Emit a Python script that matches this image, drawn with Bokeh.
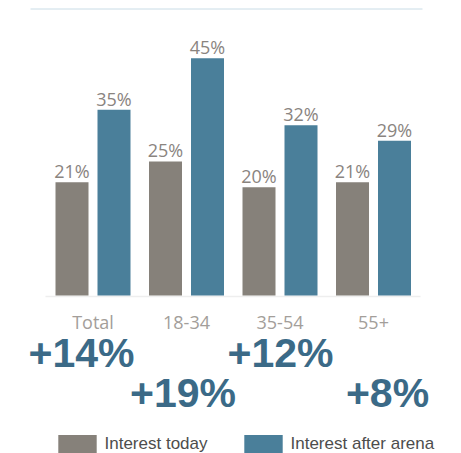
from bokeh.plotting import figure
from bokeh.models import Range1d, Legend, LegendItem, ColumnDataSource
from bokeh.core.properties import value
from bokeh.embed import file_html
from bokeh.resources import INLINE

# ---- data ----
categories = ["Total", "18-34", "35-54", "55+"]
interest_today = [21, 25, 20, 21]
interest_after = [35, 45, 32, 29]
change_labels = ["+14%", "+19%", "+12%", "+8%"]

# ---- layout constants (screen px) ----
W, H = 461, 453
PX_PER_UNIT_X = 93.5
FIRST_CENTER_X = 92.5
PX_PER_PCT = 5.167
ZERO_Y = 290.2
TOP = 0.0
LEFT = 0.0
BASE_FIX = 0.35  # em shift compensation for alphabetic baseline in svg

def sx(px):  # screen x -> data x
    return (px - FIRST_CENTER_X) / PX_PER_UNIT_X

def sy(py):  # screen y -> data y
    return (ZERO_Y - py) / PX_PER_PCT

x_start, x_end = sx(LEFT), sx(LEFT + W)
y_end, y_start = sy(TOP), sy(TOP + H)

GRAY = "#86817a"
BLUE = "#4a7f9a"
BIG = "#3b6a87"

p = figure(width=W, height=H, output_backend="svg", toolbar_location=None,
           x_range=Range1d(x_start, x_end), y_range=Range1d(y_start, y_end),
           min_border=0, min_border_left=0, min_border_right=0,
           min_border_top=0, min_border_bottom=0)
p.axis.visible = False
p.grid.visible = False
p.outline_line_color = None
p.background_fill_color = "white"
p.border_fill_color = "white"

idx = list(range(len(categories)))
off = 21 / PX_PER_UNIT_X
bw = 33 / PX_PER_UNIT_X
bottom = sy(295)

src = ColumnDataSource(dict(
    x_today=[i - off for i in idx],
    x_after=[i + off for i in idx],
    x=idx,
    today=interest_today,
    after=interest_after,
    today_lbl=[f"{v}%" for v in interest_today],
    after_lbl=[f"{v}%" for v in interest_after],
    cat=categories,
))

# top rule and baseline
p.segment(x0=[sx(30)], y0=[sy(8.5)], x1=[sx(422)], y1=[sy(8.5)],
          line_color="#c9dce6", line_width=1)
p.segment(x0=[sx(45)], y0=[sy(296)], x1=[sx(420)], y1=[sy(296)],
          line_color="#eeeeee", line_width=1.5)

r_today = p.vbar(x="x_today", top="today", bottom=bottom, width=bw, source=src,
                 fill_color=GRAY, line_color=None)
r_after = p.vbar(x="x_after", top="after", bottom=bottom, width=bw, source=src,
                 fill_color=BLUE, line_color=None)

val_kw = dict(text_font=value("Open Sans"), text_font_size="18px",
              text_color="#8a847f", text_align="center",
              text_baseline="alphabetic", y_offset=-5 - BASE_FIX * 18)
p.text(x="x_today", y="today", text="today_lbl", source=src, **val_kw)
p.text(x="x_after", y="after", text="after_lbl", source=src, **val_kw)

p.text(x="x", y=0, text="cat", source=src, text_font=value("Open Sans"),
       text_font_size="18px", text_color="#a39e9a", text_align="center",
       text_baseline="alphabetic", y_offset=328 - ZERO_Y - BASE_FIX * 18)

# big change labels (alternating rows)
BIG_SIZE = 41
big_x_offsets = [-11.5, -3.5, 0.5, 14]
big_y_offsets = [367 - ZERO_Y, 407 - ZERO_Y, 367 - ZERO_Y, 407 - ZERO_Y]
for i, lbl in enumerate(change_labels):
    p.text(x=[idx[i]], y=[0], text=[lbl], text_font=value("Liberation Sans"),
           text_font_style="bold", text_font_size=f"{BIG_SIZE}px", text_color=BIG,
           text_align="center", text_baseline="alphabetic",
           x_offset=big_x_offsets[i],
           y_offset=big_y_offsets[i] - BASE_FIX * BIG_SIZE)

legend = Legend(items=[LegendItem(label="Interest today", renderers=[r_today]),
                       LegendItem(label="Interest after arena", renderers=[r_after])],
                orientation="horizontal", location=(52.5, -2.9),
                glyph_width=48, glyph_height=24, label_standoff=4, spacing=31,
                padding=0, margin=0, border_line_color=None,
                background_fill_alpha=0,
                label_text_font="Liberation Sans", label_text_font_size="17px",
                label_text_color="#4d4d4d")
p.add_layout(legend, "center")

open("out.html", "w").write(file_html(p, INLINE))
